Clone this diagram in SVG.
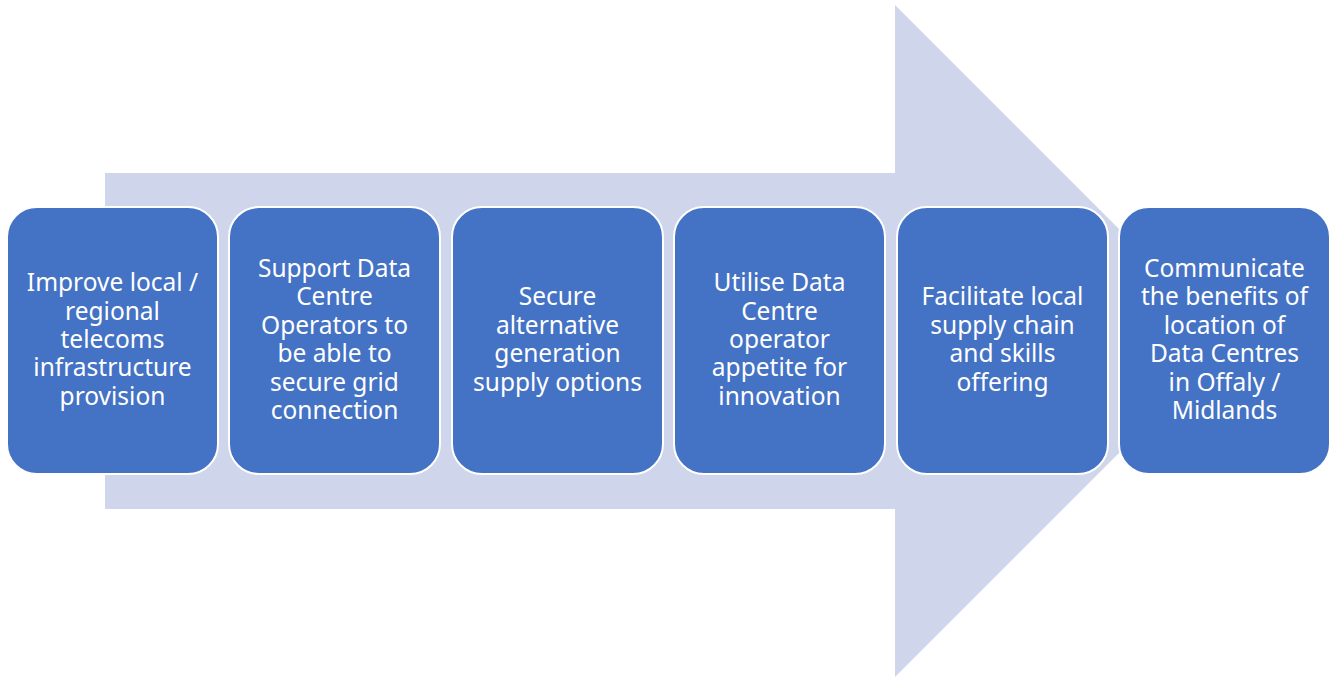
<svg xmlns="http://www.w3.org/2000/svg" width="1336" height="677" viewBox="0 0 1336 677">
<style>
.box{fill:#4472C4;stroke:#FFFFFF;stroke-width:2}
.t{font-family:"Noto Sans","Open Sans","Liberation Sans",sans-serif;font-size:24.5px;fill:#FFFFFF;text-anchor:middle}
</style>
<rect width="1336" height="677" fill="#FFFFFF"/>
<g id="arrow">
<polygon points="105,173 895,173 895,5 1231,341 895,677 895,509 105,509" fill="#CFD5EA"/>
</g>
<g id="node1">
<rect class="box" x="7" y="207" width="211" height="267" rx="30"/>
<text class="t" x="112.5" y="291.2">Improve local /</text>
<text class="t" x="112.5" y="319.6">regional</text>
<text class="t" x="112.5" y="348">telecoms</text>
<text class="t" x="112.5" y="376.4">infrastructure</text>
<text class="t" x="112.5" y="404.8">provision</text>
</g>
<g id="node2">
<rect class="box" x="229" y="207" width="211" height="267" rx="30"/>
<text class="t" x="334.5" y="277">Support Data</text>
<text class="t" x="334.5" y="305.4">Centre</text>
<text class="t" x="334.5" y="333.8">Operators to</text>
<text class="t" x="334.5" y="362.2">be able to</text>
<text class="t" x="334.5" y="390.6">secure grid</text>
<text class="t" x="334.5" y="419">connection</text>
</g>
<g id="node3">
<rect class="box" x="452" y="207" width="211" height="267" rx="30"/>
<text class="t" x="557.5" y="305.4">Secure</text>
<text class="t" x="557.5" y="333.8">alternative</text>
<text class="t" x="557.5" y="362.2">generation</text>
<text class="t" x="557.5" y="390.6">supply options</text>
</g>
<g id="node4">
<rect class="box" x="674" y="207" width="211" height="267" rx="30"/>
<text class="t" x="779.5" y="291.2">Utilise Data</text>
<text class="t" x="779.5" y="319.6">Centre</text>
<text class="t" x="779.5" y="348">operator</text>
<text class="t" x="779.5" y="376.4">appetite for</text>
<text class="t" x="779.5" y="404.8">innovation</text>
</g>
<g id="node5">
<rect class="box" x="897" y="207" width="211" height="267" rx="30"/>
<text class="t" x="1002.5" y="305.4">Facilitate local</text>
<text class="t" x="1002.5" y="333.8">supply chain</text>
<text class="t" x="1002.5" y="362.2">and skills</text>
<text class="t" x="1002.5" y="390.6">offering</text>
</g>
<g id="node6">
<rect class="box" x="1119" y="207" width="211" height="267" rx="30"/>
<text class="t" x="1224.5" y="277">Communicate</text>
<text class="t" x="1224.5" y="305.4">the benefits of</text>
<text class="t" x="1224.5" y="333.8">location of</text>
<text class="t" x="1224.5" y="362.2">Data Centres</text>
<text class="t" x="1224.5" y="390.6">in Offaly /</text>
<text class="t" x="1224.5" y="419">Midlands</text>
</g>
<g id="connectors"></g>
</svg>
